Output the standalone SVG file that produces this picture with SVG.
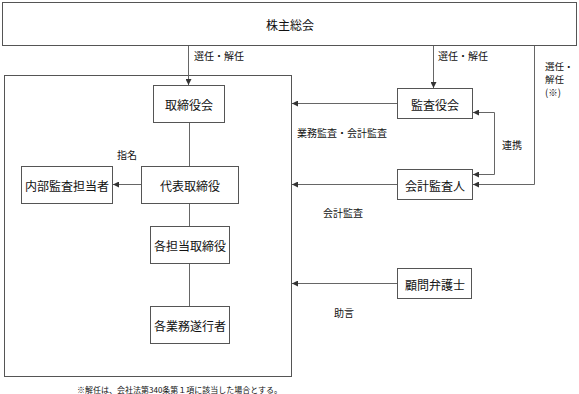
<svg xmlns="http://www.w3.org/2000/svg" width="579" height="394" viewBox="0 0 579 394">
<style>
.box{fill:#fff;stroke:#555;stroke-width:1}
.frame{fill:none;stroke:#555;stroke-width:1}
.ln{fill:none;stroke:#666;stroke-width:1}
.t{font-family:"Noto Sans CJK JP","Noto Sans CJK SC",sans-serif;font-size:12px;fill:#111;text-anchor:middle;dominant-baseline:central}
.lb{font-family:"Noto Sans CJK JP","Noto Sans CJK SC",sans-serif;font-size:10px;fill:#111;dominant-baseline:central}
.lb2{font-family:"Noto Sans CJK JP","Noto Sans CJK SC",sans-serif;font-size:9.5px;fill:#111;dominant-baseline:central}
.fn{font-family:"Noto Sans CJK JP","Noto Sans CJK SC",sans-serif;font-size:8px;fill:#111;dominant-baseline:central}
</style>
<defs>
<marker id="ah" viewBox="0 0 6 6" refX="6" refY="3" markerWidth="6" markerHeight="6" markerUnits="userSpaceOnUse" orient="auto">
<path d="M0,0 L6,3 L0,6 z" fill="#333"/>
</marker>
</defs>
<rect width="579" height="394" fill="#fff"/>
<g id="shareholders">
<rect class="box" x="2.5" y="2.5" width="574" height="43"/>
<text class="t" x="290" y="24">株主総会</text>
</g>
<g id="frame">
<rect class="frame" x="4.5" y="75.5" width="287" height="301"/>
</g>
<g id="board">
<rect class="box" x="153.5" y="85.5" width="71" height="37"/>
<text class="t" x="189" y="104">取締役会</text>
</g>
<g id="representative">
<rect class="box" x="141.5" y="166.5" width="97" height="37"/>
<text class="t" x="190" y="185">代表取締役</text>
</g>
<g id="internal-audit">
<rect class="box" x="21.5" y="166.5" width="91" height="37"/>
<text class="t" x="67" y="185">内部監査担当者</text>
</g>
<g id="directors">
<rect class="box" x="150.5" y="226.5" width="79" height="37"/>
<text class="t" x="190" y="245">各担当取締役</text>
</g>
<g id="executors">
<rect class="box" x="150.5" y="306.5" width="79" height="37"/>
<text class="t" x="190" y="325">各業務遂行者</text>
</g>
<g id="auditors">
<rect class="box" x="397.5" y="88.5" width="75" height="30"/>
<text class="t" x="435" y="104">監査役会</text>
</g>
<g id="accounting-auditor">
<rect class="box" x="397.5" y="169.5" width="75" height="30"/>
<text class="t" x="435" y="185">会計監査人</text>
</g>
<g id="lawyer">
<rect class="box" x="397.5" y="268.5" width="74" height="30"/>
<text class="t" x="435" y="284">顧問弁護士</text>
</g>
<g id="connectors">
<path class="ln" d="M188.5,46 V85" marker-end="url(#ah)"/>
<path class="ln" d="M433.5,46 V88" marker-end="url(#ah)"/>
<path class="ln" d="M534.5,46 V184.5 H473" marker-end="url(#ah)"/>
<path class="ln" d="M189.5,123 V166"/>
<path class="ln" d="M189.5,204 V226"/>
<path class="ln" d="M189.5,264 V306"/>
<path class="ln" d="M141,184.5 H113" marker-end="url(#ah)"/>
<path class="ln" d="M397,103.5 H292" marker-end="url(#ah)"/>
<path class="ln" d="M397,184.5 H292" marker-end="url(#ah)"/>
<path class="ln" d="M397,283.5 H292" marker-end="url(#ah)"/>
<path class="ln" d="M494.5,112.5 V174.5" />
<path class="ln" d="M494.5,112.5 H473" marker-end="url(#ah)"/>
<path class="ln" d="M494.5,174.5 H473" marker-end="url(#ah)"/>
</g>
<g id="labels">
<text class="lb" x="194" y="55">選任・解任</text>
<text class="lb" x="438" y="55">選任・解任</text>
<text class="lb2" x="545" y="66">選任・</text>
<text class="lb2" x="545" y="79">解任</text>
<text class="lb2" x="545" y="92">(※)</text>
<text class="lb" x="117" y="154">指名</text>
<text class="lb" x="297" y="132">業務監査・会計監査</text>
<text class="lb" x="502" y="144">連携</text>
<text class="lb" x="323" y="212">会計監査</text>
<text class="lb" x="334" y="312">助言</text>
<text class="fn" x="77" y="389">※解任は、会社法第340条第１項に該当した場合とする。</text>
</g>
</svg>
